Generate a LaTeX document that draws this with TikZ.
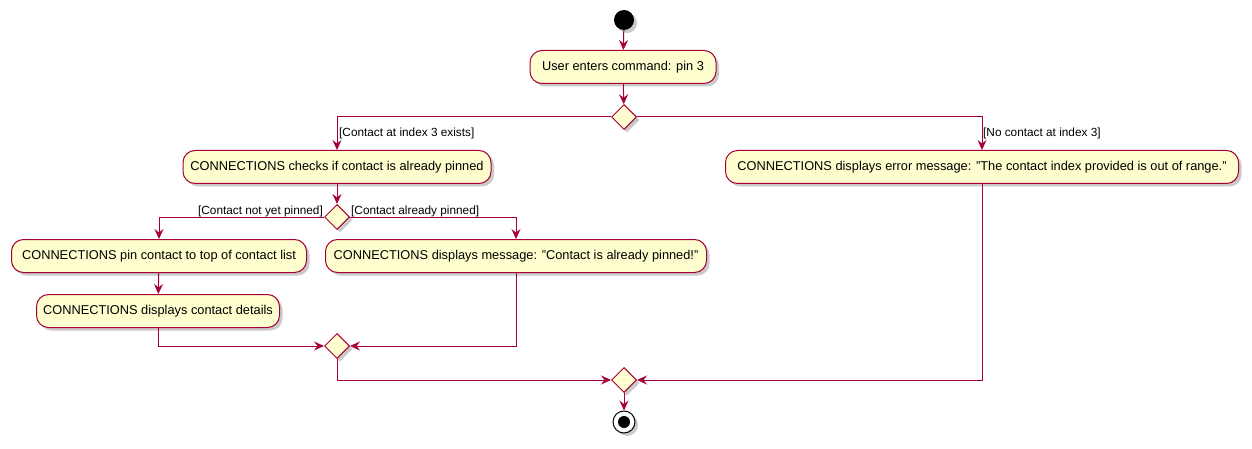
\documentclass[tikz,border=0pt]{standalone}
\usepackage{fontspec}
\setmainfont{Liberation Sans}
\usetikzlibrary{arrows.meta,shapes.geometric,shadows}
\definecolor{umlred}{HTML}{A80036}
\definecolor{umlfill}{HTML}{FEFECE}
\tikzset{
  shad/.style={drop shadow={shadow xshift=3pt,shadow yshift=-3pt,opacity=0.35,fill=black!60}},
  act/.style={draw=umlred, fill=umlfill, rounded corners=12pt, line width=1pt,
    minimum height=33pt, inner sep=0pt, font=\fontsize{12.8}{14}\selectfont, shad},
  dec/.style={diamond, draw=umlred, fill=umlfill, line width=1pt, minimum width=25pt,
    minimum height=25pt, inner sep=0pt, shad},
  flow/.style={draw=umlred, line width=1pt, -{Stealth[length=10pt,width=9pt,inset=3.5pt]}},
  line/.style={draw=umlred, line width=1pt},
  lbl/.style={font=\fontsize{11.8}{13}\selectfont, inner sep=1pt, text=black}
}
\begin{document}
\begin{tikzpicture}[x=1pt,y=-1pt]
\useasboundingbox (0,0) rectangle (1252,449);
% start
\node[circle, fill=black, minimum size=20pt, inner sep=0pt, shad] (s) at (624,20) {};
\node[act, minimum width=186pt] (a1) at (623,67) {User enters command: pin 3};
\node[dec] (d1) at (624,117) {};
\node[act, minimum width=308pt] (a2) at (337,167) {CONNECTIONS checks if contact is already pinned};
\node[dec] (d2) at (337,217) {};
\node[act, minimum width=295pt] (a3) at (159,256) {CONNECTIONS pin contact to top of contact list};
\node[act, minimum width=381pt] (a4) at (516,256) {CONNECTIONS displays message: "Contact is already pinned!"};
\node[act, minimum width=243pt] (a5) at (158,311) {CONNECTIONS displays contact details};
\node[dec] (d3) at (337,346) {};
\node[act, minimum width=513pt] (a6) at (982,167) {CONNECTIONS displays error message: "The contact index provided is out of range."};
\node[dec] (d4) at (624,380) {};
\node[circle, draw=black, fill=white, line width=1pt, minimum size=22pt, inner sep=0pt, shad] (e) at (624,422) {};
\node[circle, fill=black, minimum size=12pt, inner sep=0pt] (ei) at (624,422) {};
% labels
\node[lbl, anchor=west] (l1) at (338,133) {[Contact at index 3 exists]};
\node[lbl, anchor=west] (l2) at (982,133) {[No contact at index 3]};
\node[lbl, anchor=east] (l3) at (324,211) {[Contact not yet pinned]};
\node[lbl, anchor=west] (l4) at (350,211) {[Contact already pinned]};
% connectors
\draw[flow] (s) -- (a1);
\draw[flow] (a1) -- (d1);
\draw[flow] (d1.west) -| (a2.north);
\draw[flow] (d1.east) -| (a6.north);
\draw[flow] (a2) -- (d2);
\draw[flow] (d2.west) -| (a3.north);
\draw[flow] (d2.east) -| (a4.north);
\draw[flow] (a3) -- (a5);
\draw[flow] (a5.south) |- (d3.west);
\draw[flow] (a4.south) |- (d3.east);
\draw[flow] (d3.south) |- (d4.west);
\draw[flow] (a6.south) |- (d4.east);
\draw[flow] (d4) -- (e);
\end{tikzpicture}
\end{document}
